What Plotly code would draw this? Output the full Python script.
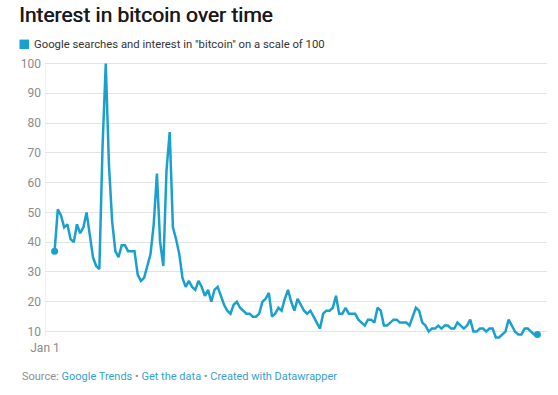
import datetime as dt
import plotly.graph_objects as go

# ---- data ----
start_date = dt.date(2018, 1, 4)
interest = [
    37, 51, 49, 45, 46, 41, 40, 46, 43, 45, 50, 42, 35, 32, 31, 72, 100, 66, 47, 37,
    35, 39, 39, 37, 37, 37, 29, 27, 28, 32, 36, 46, 63, 40, 32, 64, 77, 45, 41, 36,
    28, 25, 27, 25, 24, 27, 25, 22, 24, 20, 24, 25, 22, 19, 17, 16, 19, 20, 18, 17,
    16, 16, 15, 15, 16, 20, 21, 23, 15, 16, 18, 17, 21, 24, 20, 17, 21, 19, 17, 16,
    17, 15, 13, 11, 16, 17, 17, 18, 22, 16, 16, 18, 16, 16, 16, 14, 13, 12, 14, 14,
    13, 18, 17, 12, 12, 13, 14, 14, 13, 13, 13, 12, 15, 18, 17, 13, 12, 10, 11, 11,
    12, 11, 12, 12, 11, 11, 13, 12, 11, 12, 14, 10, 10, 11, 11, 10, 11, 11, 8, 8,
    9, 10, 14, 12, 10, 9, 9, 11, 11, 10, 9, 9,
]
dates = [start_date + dt.timedelta(days=i) for i in range(len(interest))]

y_ticks = [10, 20, 30, 40, 50, 60, 70, 80, 90, 100]
x_tick_vals = [dt.date(2018, 1, 1)]
x_tick_text = ["Jan 1"]

title_text = "Interest in bitcoin over time"
legend_text = 'Google searches and interest in "bitcoin" on a scale of 100'

LINE = "#1aa0cc"
GRID = "#e3e3e3"
TICK = "#8e8a88"
FONT = "Roboto"

W, H = 558, 395
ML, MR, MT, MB = 45, 11, 58.5, 55.5
PW, PH = W - ML - MR, H - MT - MB


def px_x(x):
    return (x - ML) / PW


def px_y(y):
    return (H - MB - y) / PH


fig = go.Figure()
fig.add_trace(go.Scatter(
    x=dates, y=interest, mode="lines",
    line=dict(color=LINE, width=2.5),
    hoverinfo="x+y", showlegend=False,
))
fig.add_trace(go.Scatter(
    x=[dates[0], dates[-1]], y=[interest[0], interest[-1]], mode="markers",
    marker=dict(color=LINE, size=7), cliponaxis=False,
    hoverinfo="skip", showlegend=False,
))

fig.update_layout(
    width=W, height=H,
    margin=dict(l=ML, r=MR, t=MT, b=MB),
    paper_bgcolor="white", plot_bgcolor="white",
    font=dict(family=FONT, size=12, color=TICK),
    xaxis=dict(
        type="date",
        range=[dt.date(2018, 1, 1), dt.date(2018, 6, 7)],
        tickvals=x_tick_vals, ticktext=x_tick_text,
        showgrid=False, zeroline=False, showline=False,
        ticks="", tickfont=dict(size=12, color=TICK),
    ),
    yaxis=dict(
        range=[7.5, 101.5],
        tickvals=y_ticks,
        showgrid=True, gridcolor=GRID, gridwidth=1,
        zeroline=False, showline=False,
        ticks="", tickfont=dict(size=12, color=TICK),
        ticklabelstandoff=3,
    ),
    shapes=[
        dict(type="line", xref="x", yref="y",
             x0=dt.date(2018, 1, 1), x1=dt.date(2018, 1, 1), y0=100, y1=8.6,
             line=dict(color=GRID, width=1)),
        dict(type="rect", xref="paper", yref="paper",
             x0=px_x(19.5), x1=px_x(29), y0=px_y(48.5), y1=px_y(39),
             fillcolor=LINE, line=dict(width=0)),
    ],
    annotations=[
        dict(text=legend_text, xref="paper", yref="paper",
             x=px_x(31.5), y=px_y(44), xanchor="left", yanchor="middle",
             showarrow=False, font=dict(family=FONT, size=11.3, color="#333333")),
        dict(text="Source: <span style='color:#3a9fd0'>Google Trends</span> \u2022 "
                  "<span style='color:#3a9fd0'>Get the data</span> \u2022 "
                  "<span style='color:#3a9fd0'>Created with Datawrapper</span>",
             xref="paper", yref="paper",
             x=px_x(19.5), y=px_y(377.5), xanchor="left", yanchor="middle",
             showarrow=False, font=dict(family=FONT, size=11, color="#909090")),
    ],
    title=dict(
        text=title_text, x=19 / W, xanchor="left", xref="container",
        y=1 - 15 / H, yanchor="middle", yref="container",
        font=dict(family=FONT, size=21, color="#1a1a1a", weight=400,
                  shadow="0.5px 0px 0px #1a1a1a"),
    ),
)

fig.write_html("out.html", config={"displayModeBar": False},
               post_script="document.body.style.margin='0';")
